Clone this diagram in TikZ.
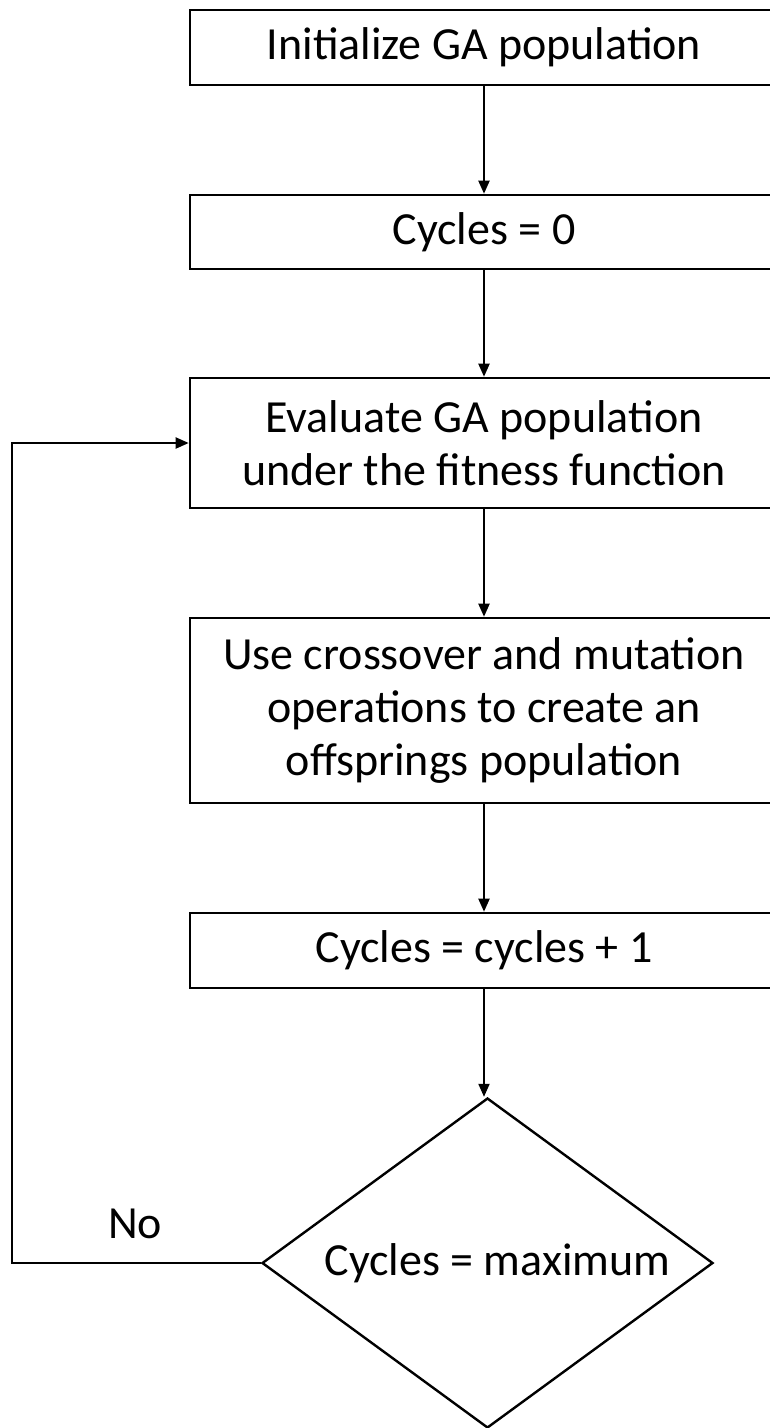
\documentclass[tikz,border=0pt]{standalone}
\usepackage{fontspec}
\setmainfont{Carlito}
\usetikzlibrary{arrows.meta,shapes.geometric}
\begin{document}
\begin{tikzpicture}[x=1pt,y=-1pt,
  every node/.style={font=\fontsize{46}{53}\selectfont},
  procbox/.style={draw,line width=2.6pt,rectangle,minimum width=588pt,inner sep=0pt,align=center},
  decbox/.style={draw,line width=2.4pt,diamond,minimum width=451pt,minimum height=330pt,inner sep=0pt},
  conn/.style={line width=2pt,-{Triangle[length=13pt,width=11pt]}},
  plain/.style={line width=2pt}]
\useasboundingbox[fill=white] (0,0) rectangle (770,1428);
\node[procbox,minimum height=75pt] (init) at (484,47.5) {Initialize GA population};
\node[procbox,minimum height=74pt] (c0) at (484,232) {Cycles = 0};
\node[procbox,minimum height=130pt] (eval) at (484,443) {Evaluate GA population\\under the fitness function};
\node[procbox,minimum height=185pt] (cross) at (484,710.5) {Use crossover and mutation\\operations to create an\\offsprings population};
\node[procbox,minimum height=75pt] (inc) at (484,950.5) {Cycles = cycles + 1};
\node[decbox] (dec) at (487.5,1263) {\makebox[0pt]{\hspace*{20pt}Cycles = maximum}};
\node (no) at (135,1224) {No};
\coordinate (bl) at (12,1263);
\coordinate (tl) at (12,443);
\draw[conn] (init.south -| 484,0) -- (c0.north -| 484,0);
\draw[conn] (c0.south -| 484,0) -- (eval.north -| 484,0);
\draw[conn] (eval.south -| 484,0) -- (cross.north -| 484,0);
\draw[conn] (cross.south -| 484,0) -- (inc.north -| 484,0);
\draw[conn] (inc.south -| 484,0) -- (dec.north -| 484,0);
\draw[conn] (dec.west) -- (bl) -- (tl) -- (eval.west);
\end{tikzpicture}
\end{document}
